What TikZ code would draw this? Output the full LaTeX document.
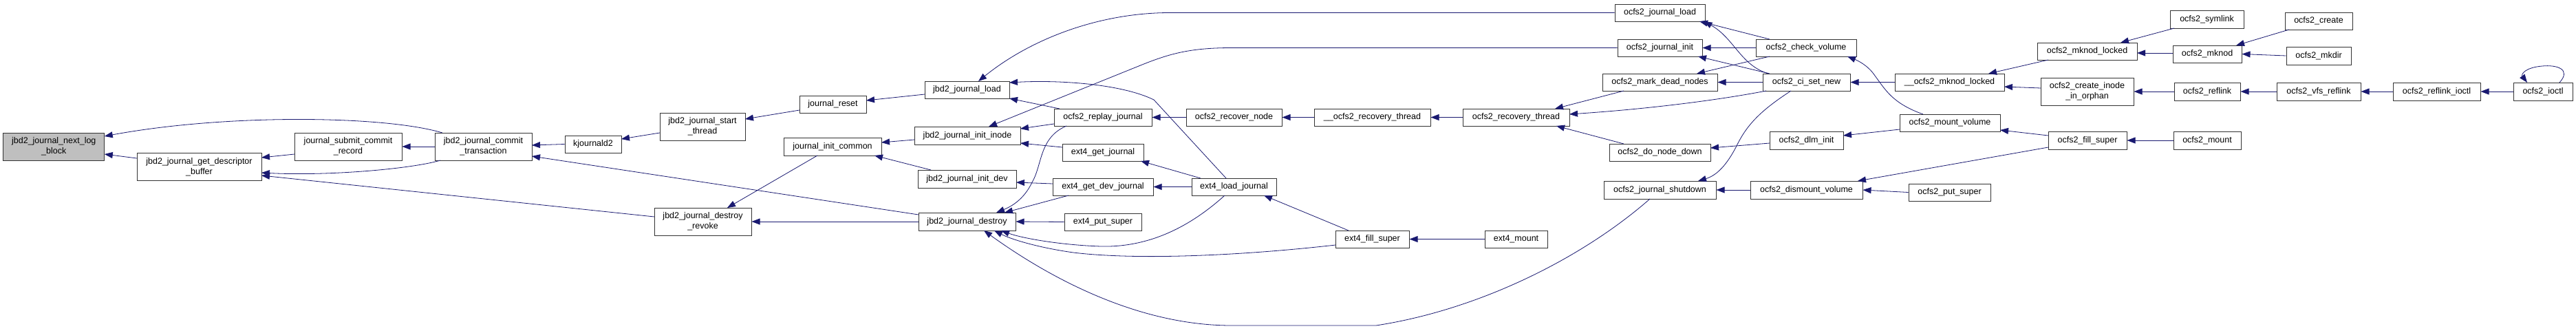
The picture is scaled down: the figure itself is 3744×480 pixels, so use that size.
\documentclass[tikz,border=0pt]{standalone}
\usepackage{fontspec}
\setmainfont{Liberation Sans}
\usetikzlibrary{arrows.meta,calc}
\definecolor{edgecol}{HTML}{191970}
\definecolor{nodegrey}{HTML}{BFBFBF}
\definecolor{bordercol}{HTML}{333333}
\tikzset{
  box/.style={draw=bordercol, line width=1pt, fill=white, inner sep=0pt, align=center,
    font=\fontsize{12.5}{15}\selectfont},
  edge/.style={draw=edgecol, line width=0.8pt, -{Triangle[length=12pt,width=9pt]}}
}
\begin{document}
\begin{tikzpicture}[x=1pt,y=-1pt]
\useasboundingbox (0,0) rectangle (3744,480);
% nodes
\node[box,fill=nodegrey,minimum width=147pt,minimum height=40pt] (nlb) at (78.3,213) {jbd2\_journal\_next\_log\\\_block};
\node[box,minimum width=181pt,minimum height=40pt] (gdb) at (289.5,242.5) {jbd2\_journal\_get\_descriptor\\\_buffer};
\node[box,minimum width=156pt,minimum height=40pt] (jscr) at (506,213) {journal\_submit\_commit\\\_record};
\node[box,minimum width=141pt,minimum height=40pt] (jct) at (702.5,213) {jbd2\_journal\_commit\\\_transaction};
\node[box,minimum width=82pt,minimum height=25pt] (kj) at (862,209.5) {kjournald2};
\node[box,minimum width=124pt,minimum height=40pt] (jst) at (1021,184) {jbd2\_journal\_start\\\_thread};
\node[box,minimum width=97pt,minimum height=25pt] (jreset) at (1210.5,151.5) {journal\_reset};
\node[box,minimum width=142pt,minimum height=26pt] (jic) at (1210,213) {journal\_init\_common};
\node[box,minimum width=141pt,minimum height=40pt] (jdr) at (1021.5,322) {jbd2\_journal\_destroy\\\_revoke};
\node[box,minimum width=123pt,minimum height=25pt] (jload) at (1405.5,130.5) {jbd2\_journal\_load};
\node[box,minimum width=154pt,minimum height=26pt] (jinode) at (1406,197) {jbd2\_journal\_init\_inode};
\node[box,minimum width=143pt,minimum height=26pt] (jdev) at (1405.5,260) {jbd2\_journal\_init\_dev};
\node[box,minimum width=141pt,minimum height=26pt] (jdestroy) at (1405.5,322) {jbd2\_journal\_destroy};
\node[box,minimum width=142pt,minimum height=25pt] (replay) at (1603,170.5) {ocfs2\_replay\_journal};
\node[box,minimum width=118pt,minimum height=25pt] (e4gj) at (1603,221.5) {ext4\_get\_journal};
\node[box,minimum width=146pt,minimum height=25pt] (e4gdj) at (1603,271.5) {ext4\_get\_dev\_journal};
\node[box,minimum width=112pt,minimum height=25pt] (e4ps) at (1603,322.5) {ext4\_put\_super};
\node[box,minimum width=139pt,minimum height=25pt] (recnode) at (1793.5,170.5) {ocfs2\_recover\_node};
\node[box,minimum width=123pt,minimum height=25pt] (e4lj) at (1793.5,271.5) {ext4\_load\_journal};
\node[box,minimum width=169pt,minimum height=25pt] (urt) at (1994.5,170.5) {\_\_ocfs2\_recovery\_thread};
\node[box,minimum width=107pt,minimum height=25pt] (e4fs) at (1994.5,347.5) {ext4\_fill\_super};
\node[box,minimum width=155pt,minimum height=25pt] (rt) at (2203.5,170.5) {ocfs2\_recovery\_thread};
\node[box,minimum width=91pt,minimum height=25pt] (e4m) at (2203.5,347.5) {ext4\_mount};
\node[box,minimum width=131pt,minimum height=25pt] (ojl) at (2412.5,18.5) {ocfs2\_journal\_load};
\node[box,minimum width=123pt,minimum height=25pt] (oji) at (2412.5,69.5) {ocfs2\_journal\_init};
\node[box,minimum width=167pt,minimum height=25pt] (mdn) at (2412.5,119.5) {ocfs2\_mark\_dead\_nodes};
\node[box,minimum width=147pt,minimum height=25pt] (dnd) at (2412.5,221.5) {ocfs2\_do\_node\_down};
\node[box,minimum width=163pt,minimum height=26pt] (ojs) at (2412.5,276) {ocfs2\_journal\_shutdown};
\node[box,minimum width=146pt,minimum height=25pt] (cv) at (2625,69.5) {ocfs2\_check\_volume};
\node[box,minimum width=127pt,minimum height=25pt] (csn) at (2625.5,119.5) {ocfs2\_ci\_set\_new};
\node[box,minimum width=107pt,minimum height=26pt] (dlm) at (2625.5,204) {ocfs2\_dlm\_init};
\node[box,minimum width=163pt,minimum height=26pt] (dv) at (2625.5,276) {ocfs2\_dismount\_volume};
\node[box,minimum width=159pt,minimum height=25pt] (umkl) at (2833.5,119.5) {\_\_ocfs2\_mknod\_locked};
\node[box,minimum width=146pt,minimum height=25pt] (mv) at (2834,178.5) {ocfs2\_mount\_volume};
\node[box,minimum width=119pt,minimum height=25pt] (ps) at (2833.5,279.5) {ocfs2\_put\_super};
\node[box,minimum width=145pt,minimum height=25pt] (mkl) at (3033.5,74.5) {ocfs2\_mknod\_locked};
\node[box,minimum width=135pt,minimum height=40pt] (ciio) at (3033.5,133) {ocfs2\_create\_inode\\\_in\_orphan};
\node[box,minimum width=114pt,minimum height=26pt] (fs) at (3034,204) {ocfs2\_fill\_super};
\node[box,minimum width=107pt,minimum height=26pt] (sym) at (3207.5,28) {ocfs2\_symlink};
\node[box,minimum width=100pt,minimum height=25pt] (mknod) at (3208,78.5) {ocfs2\_mknod};
\node[box,minimum width=96pt,minimum height=26pt] (refl) at (3208,133) {ocfs2\_reflink};
\node[box,minimum width=98pt,minimum height=26pt] (mount) at (3208,204) {ocfs2\_mount};
\node[box,minimum width=98pt,minimum height=25pt] (create) at (3370,30.5) {ocfs2\_create};
\node[box,minimum width=94pt,minimum height=26pt] (mkdir) at (3370,81) {ocfs2\_mkdir};
\node[box,minimum width=122pt,minimum height=26pt] (vfsr) at (3370,133) {ocfs2\_vfs\_reflink};
\node[box,minimum width=127pt,minimum height=26pt] (rio) at (3541.5,133) {ocfs2\_reflink\_ioctl};
\node[box,minimum width=86pt,minimum height=26pt] (ioctl) at (3696,133) {ocfs2\_ioctl};
% edges (caller -> callee)
\draw[edge] ($(jct)+(-59.5,-20)$) .. controls (560,168) and (330,165) .. ($(nlb)+(73.5,-15)$);
\draw[edge] ($(gdb)+(-90.5,-12.5)$) -- ($(nlb)+(73.5,11)$);
\draw[edge] ($(jscr)+(-78,11)$) -- ($(gdb)+(90.5,-13.5)$);
\draw[edge] ($(jct)+(-62.5,20)$) .. controls (600,245) and (480,256) .. ($(gdb)+(90.5,8.5)$);
\draw[edge] ($(jdr)+(-70.5,-7)$) -- ($(gdb)+(90.5,12.5)$);
\draw[edge] (jct.west) -- (jscr.east);
\draw[edge] (kj.west) -- ($(jct)+(70.5,-2)$);
\draw[edge] ($(jdestroy)+(-70.5,-10)$) -- ($(jct)+(70.5,14)$);
\draw[edge] ($(jst)+(-62,9)$) -- ($(kj)+(41,-7.5)$);
\draw[edge] ($(jreset)+(-48.5,8.5)$) -- ($(jst)+(62,-11)$);
\draw[edge] ($(jic)+(-22,13)$) -- ($(jdr)+(35.5,-20)$);
\draw[edge] (jdestroy.west) -- (jdr.east);
\draw[edge] ($(jload)+(-61.5,6.5)$) -- ($(jreset)+(48.5,-5.5)$);
\draw[edge] ($(jinode)+(-77,6)$) -- ($(jic)+(71,-6)$);
\draw[edge] ($(jdev)+(-52.5,-13)$) -- ($(jic)+(61,13)$);
\draw[edge] (ojl.west) -- (1700,18.5) .. controls (1600,18.5) and (1500,55) .. ($(jload)+(16.5,-12.5)$);
\draw[edge] ($(e4lj)+(-11.5,-12.5)$) -- (1677,145) .. controls (1630,122) and (1540,116) .. ($(jload)+(61.5,-10.5)$);
\draw[edge] ($(replay)+(-63,-12.5)$) -- ($(jload)+(61.5,12.5)$);
\draw[edge] (oji.west) -- (1790,69.5) .. controls (1730,69.5) and (1700,78) .. (1660,94) -- ($(jinode)+(31,-13)$);
\draw[edge] ($(replay)+(-71,9.5)$) -- ($(jinode)+(77,-10)$);
\draw[edge] ($(e4gj)+(-59,-7.5)$) -- ($(jinode)+(77,11)$);
\draw[edge] ($(e4gdj)+(-73,-4.5)$) -- ($(jdev)+(71.5,5)$);
\draw[edge] ($(e4gdj)+(-50,12.5)$) -- ($(jdestroy)+(54.5,-13)$);
\draw[edge] ($(replay)+(-53,12.5)$) .. controls (1510,200) and (1515,240) .. (1500,265) .. controls (1488,290) and (1470,300) .. ($(jdestroy)+(42.5,-13)$);
\draw[edge] (e4ps.west) -- (jdestroy.east);
\draw[edge] ($(e4lj)+(-13.5,12.5)$) .. controls (1740,320) and (1680,360) .. (1600,358) .. controls (1540,356) and (1485,346) .. ($(jdestroy)+(49.5,13)$);
\draw[edge] ($(e4fs)+(-53.5,8.5)$) .. controls (1800,372) and (1650,378) .. (1560,367) .. controls (1510,360) and (1470,348) .. ($(jdestroy)+(39.5,13)$);
\draw[edge] ($(ojs)+(-14.5,13)$) .. controls (2300,375) and (2150,450) .. (2000,473) -- (1790,473) .. controls (1650,473) and (1520,400) .. ($(jdestroy)+(24.5,13)$);
\draw[edge] (recnode.west) -- (replay.east);
\draw[edge] ($(e4lj)+(-48.5,-12.5)$) -- ($(e4gj)+(55,12.5)$);
\draw[edge] (e4lj.west) -- (e4gdj.east);
\draw[edge] ($(e4fs)+(-34.5,-12.5)$) -- ($(e4lj)+(43.5,12.5)$);
\draw[edge] (urt.west) -- (recnode.east);
\draw[edge] (rt.west) -- (urt.east);
\draw[edge] (e4m.west) -- (e4fs.east);
\draw[edge] ($(mdn)+(-52.5,12.5)$) -- ($(rt)+(56.5,-12.5)$);
\draw[edge] ($(csn)+(-58.5,12.5)$) .. controls (2500,145) and (2400,158) .. ($(rt)+(77.5,-4.5)$);
\draw[edge] ($(dnd)+(-52.5,-12.5)$) -- ($(rt)+(58.5,12.5)$);
\draw[edge] ($(cv)+(-53,-12.5)$) -- ($(ojl)+(57.5,12.5)$);
\draw[edge] ($(csn)+(-55.5,-12.5)$) .. controls (2530,95) and (2520,55) .. ($(ojl)+(64,12.5)$);
\draw[edge] (cv.west) -- (oji.east);
\draw[edge] ($(csn)+(-53.5,-12.5)$) -- ($(oji)+(55.5,12.5)$);
\draw[edge] ($(cv)+(-53,12.5)$) -- ($(mdn)+(53.5,-12.5)$);
\draw[edge] (csn.west) -- (mdn.east);
\draw[edge] ($(dlm)+(-53.5,4)$) -- ($(dnd)+(73.5,-6.5)$);
\draw[edge] (dv.west) -- (ojs.east);
\draw[edge] ($(csn)+(-22.5,12.5)$) .. controls (2560,160) and (2540,180) .. (2525,210) .. controls (2510,240) and (2495,255) .. ($(ojs)+(55.5,-13)$);
\draw[edge] (umkl.west) -- (csn.east);
\draw[edge] ($(mv)+(-39,-12.5)$) .. controls (2750,150) and (2740,130) .. (2725,110) .. controls (2715,95) and (2700,88) .. ($(cv)+(60,12.5)$);
\draw[edge] ($(mv)+(-73,9.5)$) -- ($(dlm)+(53.5,-7)$);
\draw[edge] ($(fs)+(-57,10)$) -- ($(dv)+(74.5,-13)$);
\draw[edge] (ps.west) -- (dv.east);
\draw[edge] ($(mkl)+(-56.5,12.5)$) -- ($(umkl)+(56.5,-12.5)$);
\draw[edge] ($(ciio)+(-67.5,-5)$) -- ($(umkl)+(79.5,6.5)$);
\draw[edge] ($(fs)+(-57,-7)$) -- ($(mv)+(73,10.5)$);
\draw[edge] ($(mknod)+(-50,-1.5)$) -- ($(mkl)+(72.5,2.5)$);
\draw[edge] ($(sym)+(-47.5,13)$) -- ($(mkl)+(48.5,-12.5)$);
\draw[edge] (refl.west) -- (ciio.east);
\draw[edge] (mount.west) -- (fs.east);
\draw[edge] ($(create)+(-43,12.5)$) -- ($(mknod)+(42,-12.5)$);
\draw[edge] (mkdir.west) -- (mknod.east);
\draw[edge] (vfsr.west) -- (refl.east);
\draw[edge] (rio.west) -- (vfsr.east);
\draw[edge] (ioctl.west) -- (rio.east);
\draw[edge] ($(ioctl)+(24,-13)$) .. controls (3738,100) and (3715,94) .. (3695,96) .. controls (3670,98) and (3664,108) .. ($(ioctl)+(-23,-13)$);
\end{tikzpicture}
\end{document}
